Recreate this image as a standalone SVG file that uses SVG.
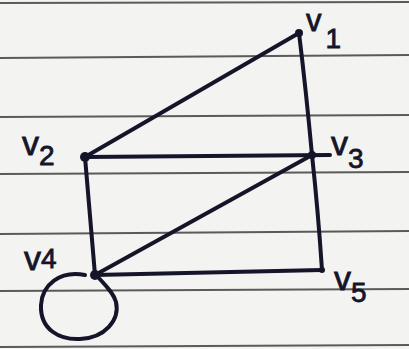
<svg xmlns="http://www.w3.org/2000/svg" width="409" height="349" viewBox="0 0 409 349">
<style>
.paper{fill:#f3f3f1}
.rule{stroke:#5a5a5a;stroke-width:2}
.edge{stroke:#15152a;stroke-width:4;fill:none;stroke-linecap:round;stroke-linejoin:round}
.dot{fill:#15152a}
.lbl{font-family:"Liberation Sans",Arial,sans-serif;fill:#15152a;font-size:34px;stroke:#15152a;stroke-width:0.8}
.sub{font-size:28px}
</style>
<rect class="paper" x="0" y="0" width="409" height="349"/>
<g id="paper-lines">
<line class="rule" x1="0" y1="3" x2="409" y2="2"/>
<line class="rule" x1="0" y1="58" x2="409" y2="55"/>
<line class="rule" x1="0" y1="117" x2="409" y2="115"/>
<line class="rule" x1="0" y1="174" x2="409" y2="172"/>
<line class="rule" x1="0" y1="234" x2="409" y2="231"/>
<line class="rule" x1="0" y1="291" x2="409" y2="289"/>
<line class="rule" x1="0" y1="347" x2="409" y2="345"/>
</g>
<g id="connectors">
<path class="edge" d="M299 33 L85 157"/>
<path class="edge" d="M299 33 Q306 90 312 155"/>
<path class="edge" d="M85 157 L330 155"/>
<path class="edge" d="M85 157 L95 275"/>
<path class="edge" d="M312 155 L95 275"/>
<path class="edge" d="M95 275 L322 270"/>
<path class="edge" d="M312 155 Q318 210 322 270"/>
<path class="edge" d="M85 275 C60 270 42 285 41 305 C40 330 60 340 80 339 C105 338 120 320 116 302 C113 292 105 285 97 276"/>
</g>
<g id="v1"><circle class="dot" cx="299" cy="33" r="4"/><text class="lbl" x="306" y="31" style="font-size:31px">v<tspan class="sub" dx="4" dy="17">1</tspan></text></g>
<g id="v2"><circle class="dot" cx="85" cy="157" r="5"/><text class="lbl" x="22" y="155">v<tspan class="sub" dx="0" dy="10">2</tspan></text></g>
<g id="v3"><circle class="dot" cx="312" cy="155" r="4"/><text class="lbl" x="331" y="155">v<tspan class="sub" dx="0" dy="13">3</tspan></text></g>
<g id="v4"><circle class="dot" cx="95" cy="275" r="5"/><text class="lbl" x="24" y="270">v<tspan class="sub" dx="0" dy="-2">4</tspan></text></g>
<g id="v5"><circle class="dot" cx="322" cy="270" r="3"/><text class="lbl" x="334" y="290">v<tspan class="sub" dx="0" dy="12">5</tspan></text></g>
</svg>
